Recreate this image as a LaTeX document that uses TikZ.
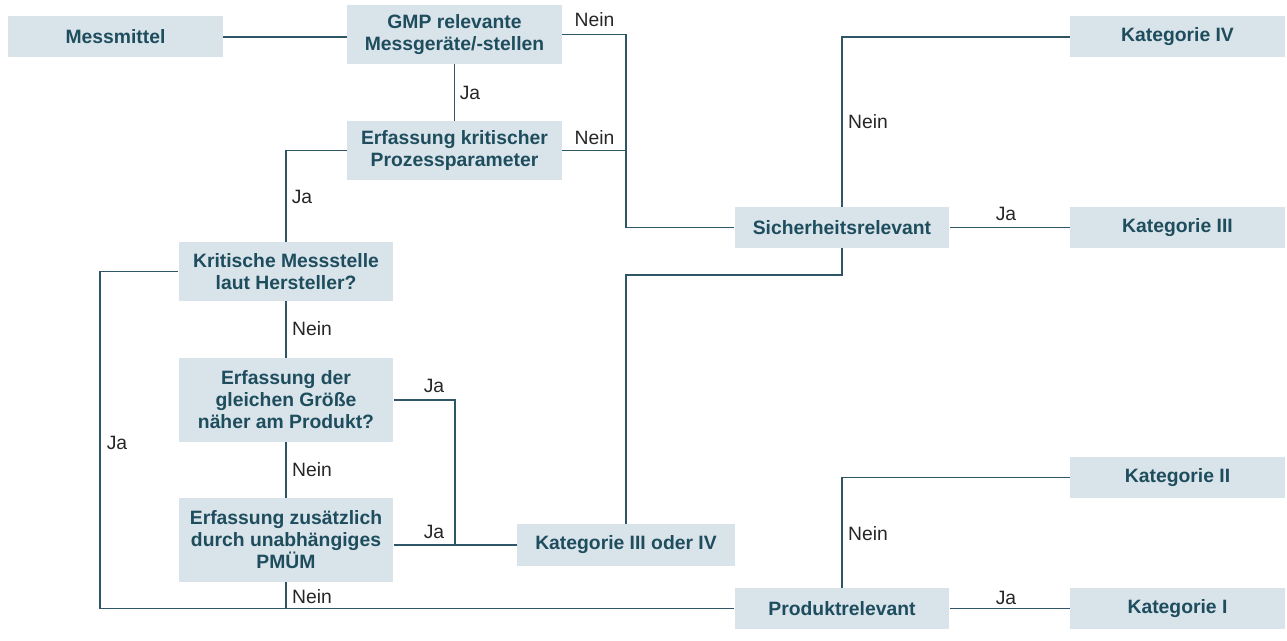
\documentclass[tikz,border=0pt]{standalone}
\usepackage{fontspec}
\setmainfont{Liberation Sans}
\usetikzlibrary{calc}
\definecolor{boxfill}{HTML}{D9E3EA}
\definecolor{boxtext}{HTML}{1E4D5E}
\definecolor{linecol}{HTML}{2E5666}

\begin{document}
\begin{tikzpicture}[x=0.02cm, y=-0.02cm,
    box/.style={fill=boxfill, text=boxtext, font=\fontsize{11}{12.5}\selectfont\bfseries, align=center, inner sep=0pt, minimum width=4.3cm},
    lbl/.style={font=\fontsize{11}{13}\selectfont, text=black!85, inner sep=0pt},
    conn/.style={draw=linecol, line width=0.7pt}]
      \useasboundingbox (0,0) rectangle (1287,641);

      % Kaesten
      \node[box, minimum height=0.82cm] (mess) at (115.5,37) {Messmittel};
      \node[box, minimum height=1.18cm] (gmp) at (454.5,34.5) {GMP relevante\\Messgeräte/-stellen};
      \node[box, minimum height=1.18cm] (krit) at (454.5,150.5) {Erfassung kritischer\\Prozessparameter};
      \node[box, minimum height=1.18cm] (herst) at (286,271.5) {Kritische Messstelle\\laut Hersteller?};
      \node[box, minimum height=1.68cm] (naeher) at (286,400) {Erfassung der\\gleichen Größe\\näher am Produkt?};
      \node[box, minimum height=1.68cm] (pmuem) at (286,540) {Erfassung zusätzlich\\durch unabhängiges\\PMÜM};
      \node[box, minimum height=0.84cm, minimum width=4.36cm] (kat34) at (626,545) {Kategorie III oder IV};
      \node[box, minimum height=0.82cm] (sicher) at (842,227.5) {Sicherheitsrelevant};
      \node[box, minimum height=0.82cm] (produkt) at (842,608.5) {Produktrelevant};
      \node[box, minimum height=0.82cm] (kat4) at (1177.5,37) {Kategorie IV};
      \node[box, minimum height=0.82cm] (kat3) at (1177.5,227.5) {Kategorie III};
      \node[box, minimum height=0.82cm] (kat2) at (1177.5,477.5) {Kategorie II};
      \node[box, minimum height=0.82cm] (kat1) at (1177.5,608.5) {Kategorie I};

      \coordinate (sk) at (842,275);
      \coordinate (ecke) at (100,608.5);
      \coordinate (jk) at (455,545);

      % Verbindungen
      \draw[conn] (mess.east) -- (mess.east -| gmp.west);
      \draw[conn] (gmp) -- (krit);
      \draw[conn] (gmp.east) -| (sicher.west -| kat34.north) -- (sicher.west);
      \draw[conn] (krit.east) -- (krit.east -| kat34.north);
      \draw[conn] (kat34.north) |- (sk) -- (sicher.south);
      \draw[conn] (krit.west) -| (herst.north);
      \draw[conn] (herst) -- (naeher);
      \draw[conn] (naeher) -- (pmuem);
      \draw[conn] (herst.west) -| (ecke) -- (produkt.west);
      \draw[conn] (pmuem.south) -- (pmuem.south |- produkt.west);
      \draw[conn] (naeher.east) -| (jk);
      \draw[conn] (pmuem.east |- kat34.west) -- (kat34.west);
      \draw[conn] (sicher.north) |- (kat4.west);
      \draw[conn] (sicher) -- (kat3);
      \draw[conn] (produkt.north) |- (kat2.west);
      \draw[conn] (produkt) -- (kat1);

      % Beschriftungen
      \node[lbl] (l1) at (594.5,20) {Nein};
      \node[lbl] (l2) at (594.5,138) {Nein};
      \node[lbl] (l3) at (470,93) {Ja};
      \node[lbl] (l4) at (302,197) {Ja};
      \node[lbl] (l5) at (312,329) {Nein};
      \node[lbl] (l6) at (117,443) {Ja};
      \node[lbl] (l7) at (434,386) {Ja};
      \node[lbl] (l8) at (434,532) {Ja};
      \node[lbl] (l9) at (312,470) {Nein};
      \node[lbl] (l10) at (312,597) {Nein};
      \node[lbl] (l11) at (868,122) {Nein};
      \node[lbl] (l12) at (1006,214) {Ja};
      \node[lbl] (l13) at (868,534) {Nein};
      \node[lbl] (l14) at (1006,598) {Ja};
    \end{tikzpicture}
\end{document}
